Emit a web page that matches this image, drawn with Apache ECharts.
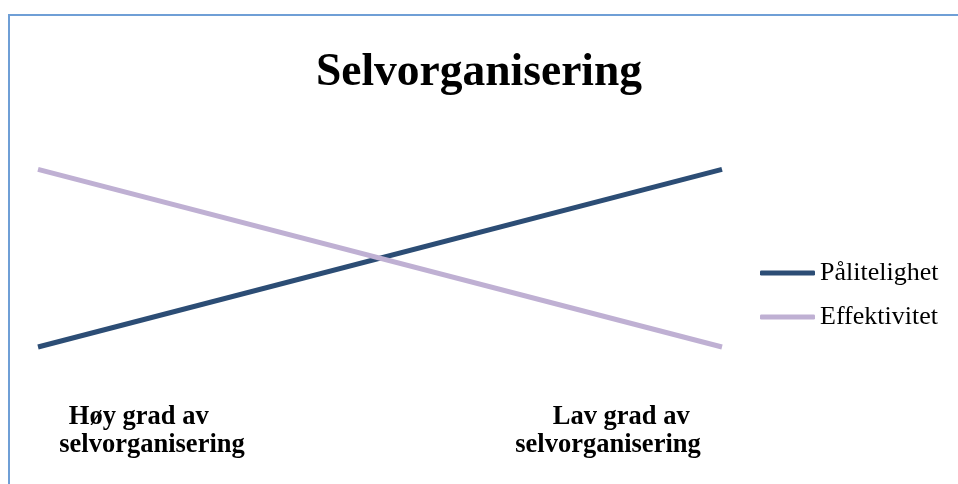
<!DOCTYPE html>
<html>
<head>
<meta charset="utf-8">
<script src="https://cdn.jsdelivr.net/npm/echarts@6/dist/echarts.min.js"></script>
<style>
  html, body { margin: 0; padding: 0; background: #ffffff; }
  #wrap { position: relative; width: 958px; height: 484px; overflow: hidden; }
  #frame {
    position: absolute; left: 8px; top: 14px; width: 1000px; height: 1000px;
    border: 2px solid #6f9fd6; box-sizing: border-box;
  }
  #chart { position: absolute; left: 0; top: 0; width: 958px; height: 484px; }
</style>
</head>
<body>
<div id="wrap">
  <div id="frame"></div>
  <div id="chart"></div>
</div>
<script>
// categories along the bottom, only two of them carry a label
const categories = ["", "Høy grad av    \nselvorganisering", "", "", "", "    Lav grad av\nselvorganisering", ""];
const seriesNames = ["Pålitelighet", "Effektivitet"];
const palitelighet = [1, null, null, null, null, null, 4.7];
const effektivitet = [4.7, null, null, null, null, null, 1];

const FONT = "'Liberation Serif', 'Times New Roman', serif";

const chart = echarts.init(document.getElementById("chart"));
chart.setOption({
  backgroundColor: "transparent",
  animation: false,
  title: {
    text: "Selvorganisering",
    left: "center",
    top: 50,
    padding: 0,
    textStyle: { fontFamily: FONT, fontSize: 45.5, fontWeight: "bold", color: "#000000" },
  },
  legend: {
    orient: "vertical",
    left: 760,
    top: 258,
    padding: 0,
    itemGap: 14,
    itemWidth: 55,
    itemHeight: 5,
    icon: "roundRect",
    data: seriesNames,
    textStyle: { fontFamily: FONT, fontSize: 26, color: "#000000", lineHeight: 30 },
  },
  grid: { left: 38, right: 236, top: 155, bottom: 89 },
  xAxis: {
    type: "category",
    boundaryGap: false,
    data: categories,
    axisLine: { show: false },
    axisTick: { show: false },
    splitLine: { show: false },
    axisLabel: {
      interval: 0,
      margin: 8,
      fontFamily: FONT,
      fontSize: 26.5,
      fontWeight: "bold",
      lineHeight: 28,
      color: "#000000",
    },
  },
  yAxis: {
    type: "value",
    min: 0,
    max: 5,
    show: false,
  },
  series: [
    {
      name: seriesNames[0],
      type: "line",
      symbol: "none",
      connectNulls: true,
      data: palitelighet,
      lineStyle: { width: 5, color: "#2c4d75" },
      itemStyle: { color: "#2c4d75" },
    },
    {
      name: seriesNames[1],
      type: "line",
      symbol: "none",
      connectNulls: true,
      data: effektivitet,
      lineStyle: { width: 5, color: "#bfb0d3" },
      itemStyle: { color: "#bfb0d3" },
    },
  ],
});
</script>
</body>
</html>
